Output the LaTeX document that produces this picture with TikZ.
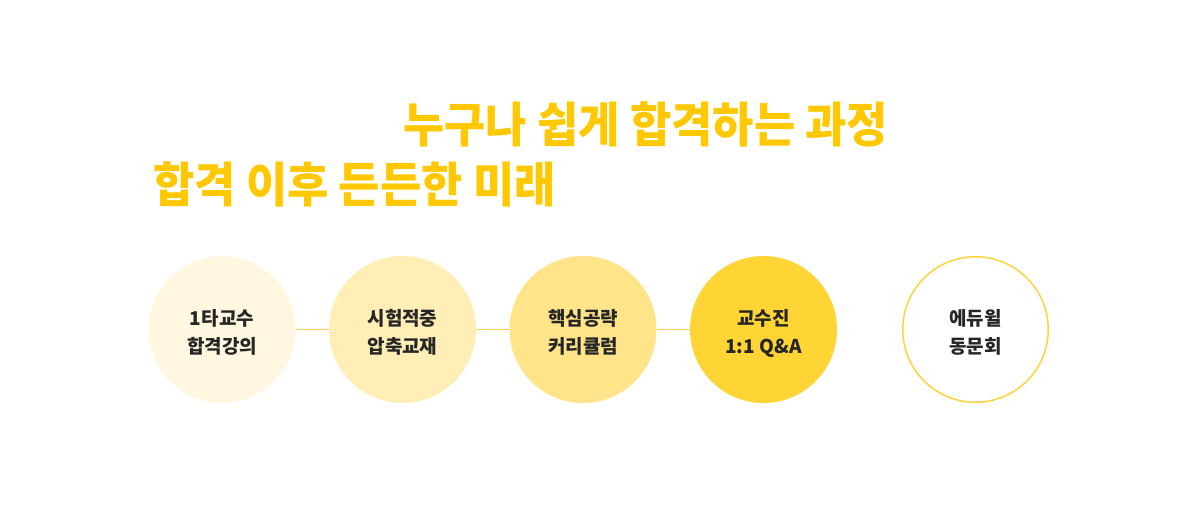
\documentclass[tikz,border=0pt]{standalone}
\usepackage{fontspec}
\setmainfont{Noto Sans CJK KR}
\newfontfamily\headfont[FakeStretch=0.935]{Noto Sans CJK KR}
\definecolor{headyellow}{HTML}{FFC800}
\definecolor{textgray}{HTML}{262626}
\definecolor{linkyellow}{HTML}{F7CF52}
\definecolor{stageA}{HTML}{FFF7E0}
\definecolor{stageB}{HTML}{FFEEB5}
\definecolor{stageC}{HTML}{FFE48A}
\definecolor{stageD}{HTML}{FFD535}
\definecolor{stageE}{HTML}{FFD43B}
\tikzset{
  heading/.style={anchor=base west, inner sep=0pt, text=headyellow, font=\headfont\bfseries\fontsize{48}{48}\selectfont},
  stage/.style={circle, minimum size=147pt, inner sep=0pt, align=center, text height=50pt, text depth=2pt, text=textgray, font=\bfseries\fontsize{19}{28}\selectfont},
  link/.style={draw=linkyellow, line width=1pt},
}
\begin{document}
\begin{tikzpicture}[x=1pt,y=-1pt]
    % define variables.
    \def\rowy{329.5}
    % fix the page size
    \useasboundingbox (0,0) rectangle (1200,507);
    % draw the headings
    \node[heading] (headA) at (403,142) {누구나 쉽게 합격하는 과정};
    \node[heading] (headB) at (153,202) {합격 이후 든든한 미래};
    % draw the circles
    \node[stage, fill=stageA] (lecture) at (222,\rowy) {1타교수\\합격강의};
    \node[stage, fill=stageB] (book) at (402.5,\rowy) {시험적중\\압축교재};
    \node[stage, fill=stageC] (course) at (583,\rowy) {핵심공략\\커리큘럼};
    \node[stage, fill=stageD] (qna) at (763.5,\rowy) {교수진\\1:1 Q\&A};
    \node[stage, draw=stageE, line width=1.5pt, minimum size=145.5pt] (alumni) at (975.5,\rowy) {에듀윌\\동문회};
    % draw the links
    \draw[link] (lecture) -- (book);
    \draw[link] (book) -- (course);
    \draw[link] (course) -- (qna);
\end{tikzpicture}
\end{document}
